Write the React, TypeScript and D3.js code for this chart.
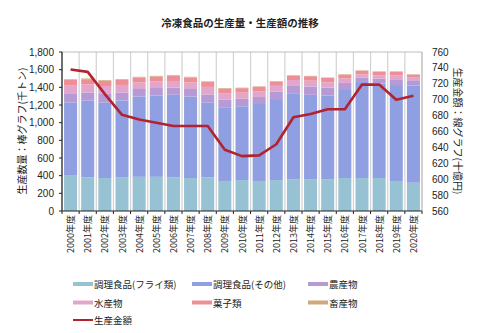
import React from "react";
import * as d3 from "d3";

const years = ["2000","2001","2002","2003","2004","2005","2006","2007","2008","2009","2010","2011","2012","2013","2014","2015","2016","2017","2018","2019","2020"];
const fry = [400,381,373,378,387,387,381,373,381,340,350,340,350,356,356,360,373,373,373,340,320];
const other = [830,871,857,874,909,920,934,923,849,834,835,871,917,977,959,947,997,1088,1070,1086,1100];
const agri = [95,90,95,90,85,85,80,85,90,85,85,80,85,90,95,90,80,50,55,65,60];
const fish = [100,90,90,85,75,75,77,75,85,75,70,65,65,60,65,60,50,35,37,42,30];
const sweets = [60,60,58,57,55,55,57,55,55,52,50,49,48,49,50,49,44,42,42,44,34];
const livestock = [7,8,8,8,8,8,8,8,7,6,6,6,5,5,5,5,4,4,4,4,4];
const amount = [738,735,707,681,675,671,667,667,667,637,629,630,644,678,682,688,688,719,719,700,705];
const leftTicks = [0,200,400,600,800,1000,1200,1400,1600,1800];
const rightTicks = [560,580,600,620,640,660,680,700,720,740,760];

const seriesNames = ["調理食品(フライ類)","調理食品(その他)","農産物","水産物","菓子類","畜産物"];
const seriesData = [fry, other, agri, fish, sweets, livestock];
const colors = ["#96c2d3","#909ee2","#b59ad6","#e2a6cc","#ec8f96","#d1a77c"];
const lineName = "生産金額";
const lineColor = "#b1232e";

const JP = "'Noto Sans CJK JP', sans-serif";
const NUM = "'Liberation Sans', Arial, sans-serif";

export default function App() {
  const left = 62, right = 422, top = 52, bottom = 211;
  const x = d3.scaleBand<string>().domain(years).range([left, right]).paddingInner(0.24).paddingOuter(0.12);
  const step = (right - left) / years.length;
  const yL = d3.scaleLinear().domain([0, 1800]).range([bottom, top]);
  const yR = d3.scaleLinear().domain([560, 760]).range([bottom, top]);

  const table = years.map((yr, i) => {
    const o: any = { year: yr };
    seriesNames.forEach((n, k) => (o[n] = seriesData[k][i]));
    return o;
  });
  const stack = d3.stack<any>().keys(seriesNames)(table);

  const line = d3.line<number>()
    .x((_, i) => (x(years[i]) as number) + x.bandwidth() / 2)
    .y((v) => yR(v));

  const legendItems = [
    ...seriesNames.map((n, k) => ({ name: n, color: colors[k], w: 4 })),
    { name: lineName, color: lineColor, w: 2 },
  ];
  const legCols = [73, 192, 308];
  const legRows = [284, 302.5, 320];

  return (
    <svg width={477} height={333} style={{ position: "absolute", left: 0, top: 0, background: "#fff" }}>
      <text x={240} y={22} textAnchor="middle" dominantBaseline="central" fontFamily={JP} fontSize={10.5} fontWeight="bold" fill="#222">冷凍食品の生産量・生産額の推移</text>

      {/* vertical grid lines */}
      {d3.range(years.length + 1).map((i) => (
        <line key={"g" + i} x1={left + i * step} x2={left + i * step} y1={top} y2={bottom} stroke="#d2d2d2" strokeWidth={1.2} />
      ))}
      <line x1={left} x2={right} y1={top} y2={top} stroke="#bdbdbd" strokeWidth={1} />
      <line x1={right} x2={right} y1={top} y2={bottom} stroke="#bdbdbd" strokeWidth={1} />

      {stack.map((s, k) => (
        <g key={"s" + k} fill={colors[k]}>
          {s.map((d, i) => (
            <rect key={i} x={x(years[i])} width={x.bandwidth()} y={yL(d[1])} height={Math.max(0, yL(d[0]) - yL(d[1]))} />
          ))}
        </g>
      ))}

      <path d={line(amount) || ""} fill="none" stroke={lineColor} strokeWidth={2.6} strokeLinejoin="round" />

      {/* axes */}
      <line x1={left} x2={left} y1={top} y2={bottom} stroke="#222" strokeWidth={1.2} />
      <line x1={left} x2={right} y1={bottom} y2={bottom} stroke="#222" strokeWidth={1.2} />
      {d3.range(years.length + 1).map((i) => (
        <line key={"t" + i} x1={left + i * step} x2={left + i * step} y1={bottom} y2={bottom + 3} stroke="#222" strokeWidth={1} />
      ))}
      {leftTicks.map((t) => (
        <g key={"l" + t}>
          <line x1={left - 3} x2={left} y1={yL(t)} y2={yL(t)} stroke="#222" />
          <text x={54} y={yL(t)} textAnchor="end" dominantBaseline="central" fontFamily={NUM} fontSize={10} fill="#222">{d3.format(",")(t)}</text>
        </g>
      ))}
      {rightTicks.map((t) => (
        <text key={"r" + t} x={432} y={yR(t)} textAnchor="start" dominantBaseline="central" fontFamily={NUM} fontSize={10} fill="#222">{t}</text>
      ))}
      {years.map((yr) => {
        const cx = (x(yr) as number) + x.bandwidth() / 2;
        return (
          <text key={"x" + yr} transform={`translate(${cx},215) rotate(-90)`} textAnchor="end" dominantBaseline="central" fontFamily={JP} fontSize={9} fill="#222">{yr + "年度"}</text>
        );
      })}

      <text transform="translate(21,131) rotate(-90)" textAnchor="middle" dominantBaseline="central" fontFamily={JP} fontSize={10} fill="#222">生産数量：棒グラフ(千トン)</text>
      <text transform="translate(458,131) rotate(90)" textAnchor="middle" dominantBaseline="central" fontFamily={JP} fontSize={10} fill="#222">生産金額：線グラフ(十億円)</text>

      {legendItems.map((it, i) => {
        const cx = legCols[i % 3];
        const cy = legRows[Math.floor(i / 3)];
        return (
          <g key={"lg" + i}>
            <line x1={cx} x2={cx + 20} y1={cy} y2={cy} stroke={it.color} strokeWidth={it.w} />
            <text x={cx + 21} y={cy} dominantBaseline="central" fontFamily={JP} fontSize={9.5} fill="#222">{it.name}</text>
          </g>
        );
      })}
    </svg>
  );
}
